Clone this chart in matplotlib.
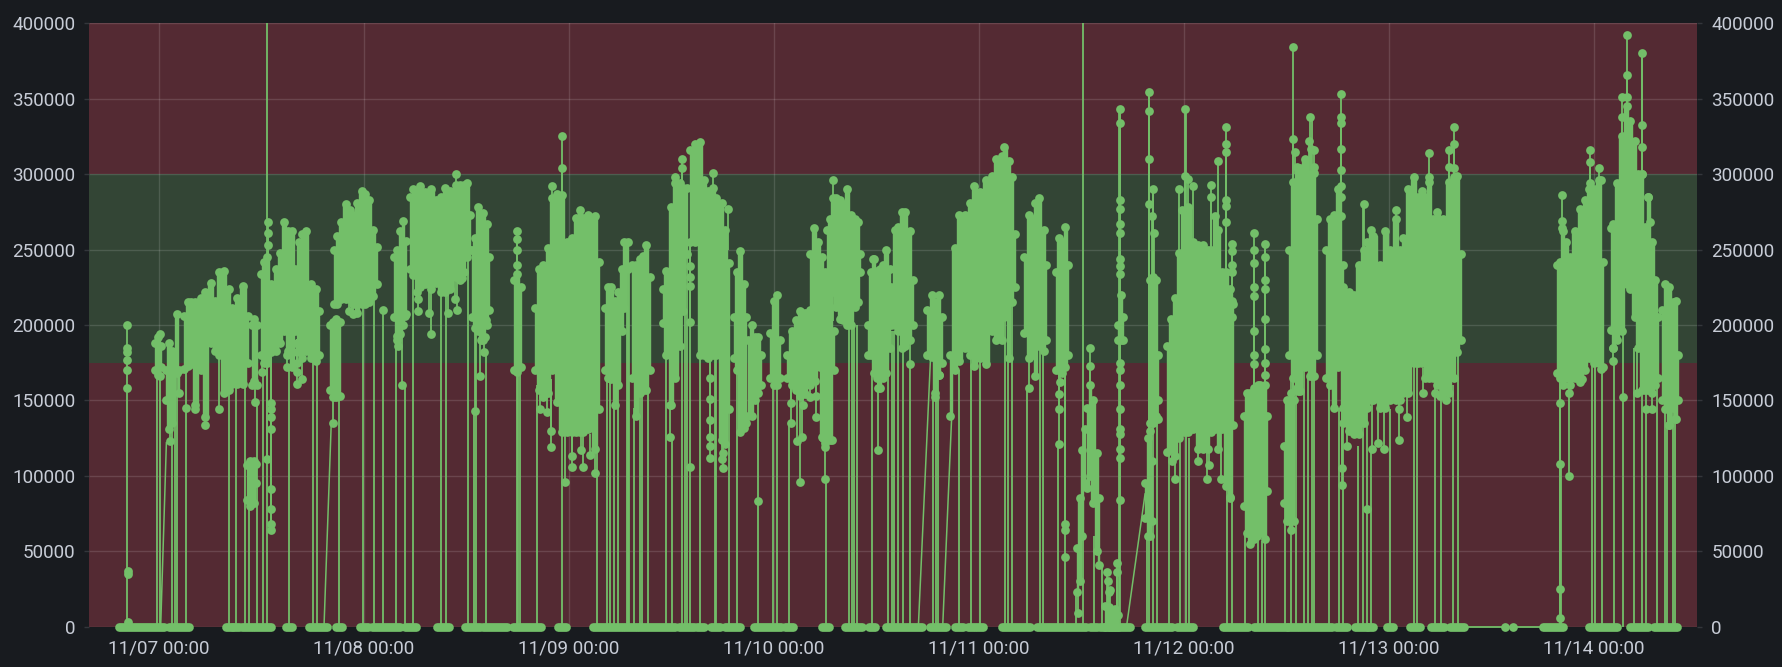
import numpy as np
import pandas as pd
import matplotlib
matplotlib.use('Agg')
import matplotlib.pyplot as plt
import matplotlib.dates as mdates

# all values in thousands, time in hours after 11/07 00:00
start_day = pd.Timestamp('2023-11-07')
y_ticks = [0, 50000, 100000, 150000, 200000, 250000, 300000, 350000, 400000]
ok_low = 175000
ok_high = 300000

# dense parts of the series: time, upper edge, lower edge
h01 = [-0.4, -0.1, 0.1, 0.3]
hi01 = [188, 192, 194, 186]
lo01 = [170, 167, 166, 172]
h02 = [0.8, 1.2, 1.6, 2.1, 2.4]
hi02 = [170, 188, 183, 207, 170]
lo02 = [150, 131, 135, 168, 155]
h03 = [3.0, 3.4, 3.8, 4.3, 4.9, 5.4, 6.1, 6.6, 7.1, 7.6, 8.2, 8.6, 9.2, 9.9, 10.5]
hi03 = [206, 215, 215, 215, 218, 222, 228, 216, 235, 236, 224, 211, 218, 226, 206]
lo03 = [171, 173, 174, 147, 170, 139, 188, 183, 180, 155, 157, 161, 161, 161, 175]
h04 = [10.9, 11.2, 11.5]
hi04 = [200, 204, 200]
lo04 = [160, 163, 160]
h05 = [10.3, 10.7, 11.1, 11.4]
hi05 = [107, 110, 110, 108]
lo05 = [84, 80, 82, 95]
h06 = [12.0, 12.3, 12.7, 13.2, 13.7, 14.2, 14.7, 15.1, 15.6, 16.0, 16.4, 16.8, 17.2, 17.8, 18.4, 18.8]
hi06 = [234, 242, 245, 227, 237, 248, 268, 262, 262, 237, 255, 260, 262, 227, 224, 209]
lo06 = [180, 175, 175, 182, 183, 188, 196, 183, 172, 196, 186, 178, 183, 178, 176, 180]
h07 = [20.0, 20.4, 20.8, 21.2]
hi07 = [200, 202, 204, 202]
lo07 = [157, 152, 152, 153]
h08 = [20.5, 20.9, 21.3, 21.9, 22.4, 22.7, 23.2, 23.8, 24.2, 24.6, 25.1, 25.5]
hi08 = [250, 259, 268, 280, 276, 273, 281, 289, 287, 283, 263, 252]
lo08 = [214, 214, 217, 217, 217, 214, 208, 214, 214, 215, 219, 227]
h09 = [27.5, 27.9, 28.3, 28.6, 28.9]
hi09 = [245, 250, 262, 269, 256]
lo09 = [205, 193, 194, 200, 207]
h10 = [29.4, 29.8, 30.2, 30.6, 31.2, 31.9, 32.5, 33.0, 33.5, 34.1, 34.8, 35.3, 35.7, 36.1, 36.5]
hi10 = [285, 290, 289, 292, 288, 290, 283, 285, 291, 289, 293, 293, 293, 294, 273]
lo10 = [237, 233, 222, 225, 227, 224, 228, 222, 222, 224, 232, 230, 235, 245, 250]
h11 = [36.7, 37.0, 37.4, 37.7, 38.0, 38.4, 38.7]
hi11 = [250, 258, 278, 270, 274, 267, 245]
lo11 = [205, 198, 196, 190, 190, 200, 210]
h12 = [41.6, 42.0, 42.4]
hi12 = [230, 234, 225]
lo12 = [170, 169, 172]
h13 = [44.1, 44.5, 45.0, 45.6, 46.1, 46.6, 47.2, 47.8, 48.4, 48.8, 49.3, 49.7, 50.3, 51.1, 51.5]
hi13 = [211, 237, 240, 251, 284, 287, 286, 255, 258, 271, 276, 271, 273, 272, 242]
lo13 = [170, 157, 152, 155, 170, 149, 129, 129, 129, 129, 129, 129, 131, 118, 144]
h14 = [52.2, 52.6, 52.9, 53.4, 53.8, 54.2, 54.5, 54.9]
hi14 = [211, 225, 225, 216, 222, 237, 255, 255]
lo14 = [170, 165, 164, 147, 160, 196, 211, 237]
h15 = [55.4, 55.9, 56.3, 56.7, 57.0, 57.5]
hi15 = [240, 240, 244, 246, 253, 232]
lo15 = [165, 140, 155, 157, 157, 170]
h16 = [59.0, 59.4, 60.0, 60.5, 61.0, 61.4, 61.9]
hi16 = [224, 236, 278, 294, 294, 291, 291]
lo16 = [201, 180, 147, 165, 186, 209, 247]
h17 = [62.2, 62.8, 63.4, 63.8, 64.3, 64.9, 65.3, 65.9, 66.3, 66.8]
hi17 = [316, 320, 321, 296, 289, 291, 284, 281, 263, 241]
lo17 = [255, 255, 180, 180, 178, 180, 180, 124, 121, 144]
h18 = [67.3, 67.7, 68.0, 68.5, 68.8]
hi18 = [205, 235, 249, 227, 205]
lo18 = [178, 170, 129, 132, 135]
h19 = [69.0, 69.4, 69.8, 70.2, 70.5]
hi19 = [190, 200, 192, 192, 180]
lo19 = [140, 140, 150, 155, 160]
h20 = [71.6, 72.0, 72.4, 72.7]
hi20 = [195, 216, 220, 190]
lo20 = [165, 160, 160, 165]
h21 = [73.5, 74.1, 74.6, 75.1, 75.7, 76.2, 76.8, 77.4]
hi21 = [180, 196, 203, 209, 208, 210, 215, 220]
lo21 = [165, 160, 157, 153, 154, 160, 163, 172]
h22 = [76.2, 76.7, 77.2, 77.6, 78.0, 78.6, 79.0]
hi22 = [247, 264, 255, 245, 235, 222, 196]
lo22 = [196, 196, 180, 126, 122, 124, 170]
h23 = [78.2, 78.6, 78.9, 79.3, 79.7, 80.1, 80.6, 81.1, 81.5, 81.9, 82.1]
hi23 = [263, 270, 284, 284, 283, 280, 290, 273, 270, 268, 247]
lo23 = [230, 222, 222, 212, 204, 203, 200, 200, 212, 215, 235]
h24 = [83.0, 83.4, 83.7, 84.1, 84.4, 84.8, 85.1, 85.6]
hi24 = [200, 235, 244, 236, 237, 240, 250, 237]
lo24 = [180, 180, 168, 165, 158, 165, 168, 185]
h25 = [85.7, 86.2, 86.6, 87.0, 87.4, 87.9, 88.3]
hi25 = [225, 263, 265, 275, 275, 262, 230]
lo25 = [200, 200, 196, 185, 186, 190, 200]
h26 = [90.0, 90.5, 90.9, 91.3, 91.7]
hi26 = [210, 220, 215, 220, 205]
lo26 = [180, 179, 152, 167, 175]
h27 = [92.6, 93.2, 93.7, 94.4, 95.0, 95.4, 96.1, 96.8, 97.5, 98.0, 98.7, 99.0, 99.5, 99.9, 100.2]
hi27 = [180, 251, 273, 273, 281, 292, 288, 296, 299, 310, 312, 318, 309, 298, 260]
lo27 = [140, 170, 176, 185, 180, 173, 178, 174, 196, 190, 190, 205, 178, 215, 225]
h28 = [101.3, 101.9, 102.3, 102.6, 103.0, 103.6, 103.9]
hi28 = [245, 273, 270, 281, 284, 263, 240]
lo28 = [195, 178, 180, 166, 186, 183, 190]
h29 = [105.0, 105.4, 105.8, 106.1, 106.5]
hi29 = [235, 258, 255, 265, 240]
lo29 = [170, 170, 168, 172, 180]
h30 = [107.5, 107.8, 108.1, 108.4]
hi30 = [52, 85, 117, 131]
lo30 = [23, 30, 60, 95]
h31 = [108.7, 109.0, 109.4, 109.8, 110.1]
hi31 = [145, 160, 150, 115, 85]
lo31 = [92, 100, 82, 50, 41]
h32 = [110.8, 111.2, 111.6, 112.0, 112.3]
hi32 = [14, 13, 10, 12, 8]
lo32 = [0, 0, 0, 0, 0]
h33 = [112.3, 112.6, 112.9]
hi33 = [200, 220, 205]
lo33 = [190, 190, 190]
h34 = [116.0, 116.4, 116.8, 117.0]
hi34 = [230, 232, 230, 180]
lo34 = [135, 135, 140, 150]
h35 = [115.5, 115.8, 116.1, 116.3]
hi35 = [95, 125, 130, 110]
lo35 = [72, 60, 60, 70]
h36 = [118.0, 118.5, 119.0, 119.5, 119.8, 120.2, 120.5, 121.1, 121.7, 122.3, 122.8, 123.2, 123.7, 124.0, 124.5, 125.0, 125.4, 125.8]
hi36 = [186, 204, 218, 248, 276, 273, 278, 255, 253, 253, 250, 250, 272, 263, 235, 235, 224, 214]
lo36 = [116, 118, 113, 125, 129, 129, 129, 131, 118, 118, 118, 129, 131, 118, 131, 93, 85, 134]
h37 = [127.0, 127.35, 127.8, 128.2, 128.6, 128.9, 129.5, 129.8]
hi37 = [140, 155, 155, 158, 158, 160, 160, 140]
lo37 = [80, 62, 55, 58, 60, 62, 58, 90]
h38 = [131.7, 132.1, 132.5, 132.9]
hi38 = [120, 150, 155, 150]
lo38 = [82, 70, 64, 70]
h39 = [132.3, 132.8, 133.2, 133.6, 134.2, 134.8, 135.2, 135.6]
hi39 = [250, 295, 305, 304, 310, 300, 305, 270]
lo39 = [180, 165, 158, 156, 172, 166, 166, 180]
h40 = [136.7, 137.1, 137.6, 138.1, 138.7]
hi40 = [250, 270, 273, 290, 240]
lo40 = [165, 160, 145, 172, 145]
h41 = [138.7, 139.3, 139.9, 140.5, 141.1, 141.5, 141.9, 142.2, 143.0, 143.6, 144.2, 144.8, 145.3, 145.7,
       146.3, 146.9, 147.4, 147.9, 148.3, 148.7, 149.2, 149.6, 150.4, 151.0, 151.6, 152.0, 152.4]
hi41 = [225, 222, 220, 240, 250, 255, 263, 259, 240, 262, 250, 270, 250, 258,
        290, 298, 285, 289, 285, 295, 270, 275, 270, 295, 298, 299, 247]
lo41 = [135, 130, 128, 128, 135, 145, 150, 150, 145, 145, 150, 150, 150, 155,
        155, 175, 175, 175, 165, 165, 165, 160, 155, 155, 165, 182, 190]
h42 = [163.7, 164.0, 164.4, 164.7, 165.2, 165.8, 166.4, 167.0, 167.5, 168.0, 168.6, 169.1]
hi42 = [240, 242, 262, 255, 245, 262, 277, 283, 290, 290, 296, 242]
lo42 = [168, 165, 160, 165, 160, 165, 162, 170, 178, 175, 175, 172]
h43 = [170.0, 170.3, 170.7, 171.3, 171.85, 172.2, 172.8, 173.2, 173.6, 174.0, 174.4, 174.8, 175.2, 175.5]
hi43 = [264, 267, 294, 325, 345, 335, 322, 300, 300, 265, 285, 255, 230, 205]
lo43 = [197, 185, 190, 196, 227, 224, 205, 185, 157, 157, 157, 155, 160, 165]
h44 = [176.0, 176.35, 176.75, 177.3, 177.6, 177.9]
hi44 = [210, 227, 225, 215, 216, 180]
lo44 = [150, 144, 134, 145, 138, 150]

dense_parts = [
    (h01, hi01, lo01), (h02, hi02, lo02), (h03, hi03, lo03), (h04, hi04, lo04), (h05, hi05, lo05),
    (h06, hi06, lo06), (h07, hi07, lo07), (h08, hi08, lo08), (h09, hi09, lo09), (h10, hi10, lo10),
    (h11, hi11, lo11), (h12, hi12, lo12), (h13, hi13, lo13), (h14, hi14, lo14), (h15, hi15, lo15),
    (h16, hi16, lo16), (h17, hi17, lo17), (h18, hi18, lo18), (h19, hi19, lo19), (h20, hi20, lo20),
    (h21, hi21, lo21), (h22, hi22, lo22), (h23, hi23, lo23), (h24, hi24, lo24), (h25, hi25, lo25),
    (h26, hi26, lo26), (h27, hi27, lo27), (h28, hi28, lo28), (h29, hi29, lo29), (h30, hi30, lo30),
    (h31, hi31, lo31), (h32, hi32, lo32), (h33, hi33, lo33), (h34, hi34, lo34), (h35, hi35, lo35),
    (h36, hi36, lo36), (h37, hi37, lo37), (h38, hi38, lo38), (h39, hi39, lo39), (h40, hi40, lo40),
    (h41, hi41, lo41), (h42, hi42, lo42), (h43, hi43, lo43), (h44, hi44, lo44),
]

# single points outside the dense parts
spots_a = [(-3.75, 200), (-3.75, 185), (-3.75, 182), (-3.75, 176.6), (-3.75, 170), (-3.75, 158), (-3.65, 37),
           (-3.65, 35), (-3.6, 3), (1.3, 123), (4.25, 144), (5.4, 134), (3.15, 145), (7.05, 144), (11.3, 149),
           (12.75, 268), (12.75, 261), (12.75, 253), (13.2, 148), (13.2, 144), (13.2, 139), (13.2, 131),
           (13.2, 91), (13.2, 78), (13.2, 68), (13.2, 64), (12.7, 111), (15.05, 180), (15.05, 172), (16.2, 188),
           (16.2, 182), (16.2, 175), (16.2, 169), (16.2, 161), (16.8, 164), (12.1, 169), (20.4, 135), (21.0, 153),
           (22.3, 209), (22.8, 207), (26.2, 210), (27.9, 190), (28.0, 186), (28.45, 160), (28.85, 206),
           (30.4, 217), (30.4, 209), (31.65, 208), (31.85, 194), (33.85, 208), (34.7, 217), (34.9, 210),
           (35.5, 231), (34.8, 300), (37.03, 143), (37.6, 166), (38.05, 182), (38.2, 192), (38.3, 203),
           (42.0, 262), (42.0, 257), (42.0, 250), (42.0, 240), (46.1, 292), (47.2, 325), (47.2, 304),
           (45.4, 142), (45.9, 130), (45.9, 119), (47.6, 96), (48.35, 113), (48.35, 106), (49.7, 106),
           (49.4, 117), (50.5, 114), (51.1, 102), (44.6, 144)]
spots_b = [(59.9, 126), (59.9, 147), (60.5, 298), (61.3, 310), (61.3, 304), (62.2, 239), (62.2, 232), (62.2, 226),
           (62.2, 202), (62.2, 106), (64.9, 301), (66.6, 277), (64.5, 165), (64.5, 151), (64.5, 137), (64.5, 126),
           (64.5, 120), (64.5, 112), (65.9, 111), (66.1, 105), (66.1, 115), (70.1, 83), (74.0, 148), (74.0, 135),
           (74.7, 123), (75.3, 126), (75.05, 96), (75.4, 147), (76.25, 152), (76.95, 153), (76.9, 139),
           (78.0, 119), (78.05, 98), (78.8, 124), (77.8, 125), (78.9, 296), (84.2, 117), (84.2, 158), (83.65, 244),
           (88.0, 174), (90.9, 155), (91.3, 167), (101.9, 158), (105.35, 154), (105.35, 144), (105.35, 121),
           (105.5, 162), (106.1, 68), (106.1, 64), (106.1, 46), (107.6, 9), (109.0, 185), (109.0, 173),
           (111.0, 36), (111.1, 30), (111.2, 23), (111.4, 24)]
spots_c = [(112.53, 343), (112.53, 333.6), (112.53, 283), (112.53, 277), (112.53, 267), (112.53, 261), (112.53, 244),
           (112.53, 239), (112.53, 234), (112.53, 175), (112.53, 170), (112.53, 160), (112.53, 144), (112.53, 131),
           (112.53, 128), (112.53, 118), (112.53, 112), (112.53, 84), (112.2, 42), (112.2, 36),
           (115.9, 354.5), (115.9, 341.6), (115.9, 310), (115.9, 280), (116.35, 290), (116.3, 272), (116.5, 261),
           (117.0, 138), (119.0, 98), (118.6, 110), (119.45, 290), (120.2, 343), (120.2, 299), (120.5, 297),
           (121.1, 292), (123.2, 293), (123.2, 285), (124.0, 309), (124.95, 331), (124.95, 320), (124.95, 315),
           (124.95, 283), (124.95, 279), (124.95, 268), (125.6, 254), (125.6, 249), (125.6, 240), (125.6, 235),
           (125.6, 216), (125.6, 205), (122.7, 98), (122.9, 107), (124.4, 98), (121.7, 110), (125.4, 86),
           (128.2, 261), (128.2, 250), (128.2, 241), (128.2, 225), (128.2, 219), (128.2, 196), (128.2, 180),
           (128.2, 174), (129.5, 254), (129.5, 245), (129.5, 230), (129.5, 224), (129.5, 204), (129.5, 184),
           (129.5, 175), (129.5, 167), (128.7, 160), (132.8, 384.6), (132.8, 323.5), (133.0, 315), (134.8, 338),
           (134.7, 322), (134.9, 317), (135.2, 316), (135.3, 301), (133.4, 156)]
spots_d = [(138.37, 353), (138.37, 338), (138.37, 334), (138.37, 317), (138.37, 303), (138.37, 292), (138.37, 285),
           (138.37, 272), (141.1, 280), (139.07, 120), (141.4, 78), (138.5, 105), (138.5, 94), (143.5, 118),
           (142.0, 118), (142.7, 122), (145.15, 124), (145.2, 144), (146.1, 139), (144.8, 276), (148.7, 313.7),
           (148.7, 298), (148.05, 155), (151.0, 316), (151.0, 305), (151.65, 331), (151.65, 320), (151.65, 304),
           (149.4, 155), (150.0, 153), (150.65, 150), (157.6, 0), (158.6, 0),
           (164.3, 286), (164.3, 269), (164.3, 264), (164.1, 148), (164.1, 107.6), (164.1, 24.7), (164.1, 6),
           (165.1, 100), (165.1, 155), (166.6, 164), (167.55, 316), (167.55, 308), (167.55, 294), (168.6, 304),
           (168.9, 296), (168.8, 171), (171.85, 392), (171.85, 366), (171.3, 351), (171.3, 338), (171.9, 351),
           (173.6, 380), (173.6, 332.5), (173.6, 318), (173.6, 300), (171.4, 152.6), (170.3, 185), (170.3, 176),
           (174.4, 285), (174.6, 268), (174.1, 144), (174.8, 144), (173.1, 155), (176.75, 134), (177.5, 138)]

# falls to zero: time and the value the line came from
drops_a = [(-3.75, 200), (-0.16, 166), (0.11, 166), (1.52, 135), (1.9, 170), (2.18, 170), (3.15, 145), (8.23, 160),
           (9.0, 161), (10.1, 161), (10.57, 80), (11.47, 150), (12.2, 169), (12.67, 500), (15.25, 172), (18.06, 178),
           (18.53, 178), (21.1, 153), (23.96, 214), (25.2, 219), (26.2, 210), (27.8, 190), (28.84, 160),
           (29.74, 233), (33.0, 222), (33.64, 222), (36.17, 245), (36.9, 143), (37.2, 196), (38.28, 182),
           (41.9, 170), (42.03, 170), (42.3, 172), (44.33, 160), (47.26, 129), (51.3, 118)]
drops_b = [(52.45, 170), (52.84, 165), (53.3, 147), (53.8, 160), (54.8, 240), (54.98, 240), (55.1, 240), (55.64, 145),
           (56.34, 155), (56.6, 155), (57.24, 157), (59.35, 180), (60.05, 126), (61.3, 209), (61.6, 209), (61.9, 247),
           (62.23, 106), (63.36, 180), (65.1, 180), (65.3, 180), (66.76, 144), (67.66, 170), (70.1, 83), (71.95, 160),
           (72.34, 160), (73.75, 135), (78.08, 98), (80.85, 200), (81.16, 200), (81.43, 200), (81.7, 200), (83.46, 168),
           (85.4, 170), (85.8, 196), (86.1, 196), (86.6, 196), (87.1, 185), (87.95, 174), (90.68, 150), (90.96, 150),
           (91.27, 167), (93.65, 170), (95.05, 178), (96.15, 178), (99.07, 210), (99.46, 178), (99.85, 215),
           (101.65, 158), (103.17, 186), (103.48, 183), (105.3, 121), (106.1, 46), (108.25, 500), (107.4, 25),
           (109.49, 60), (110.39, 40), (112.45, 343), (112.53, 343)]
drops_c = [(115.74, 60), (115.97, 354), (116.36, 290), (116.9, 138), (118.3, 116), (119.56, 125), (120.27, 343),
           (120.66, 125), (125.03, 100), (125.6, 254), (127.17, 62), (128.73, 60), (129.2, 57), (129.47, 254),
           (131.85, 85), (132.6, 165), (133.1, 160), (134.08, 170), (134.5, 166), (134.98, 338), (135.3, 166),
           (137.0, 165), (138.17, 145), (138.7, 135), (140.44, 120), (141.0, 280), (141.5, 78), (141.88, 118),
           (144.15, 144), (147.0, 175), (147.27, 175), (149.4, 155), (150.12, 153), (151.56, 160), (152.15, 182),
           (164.05, 148), (164.15, 107), (167.76, 178), (168.2, 175), (168.93, 171), (170.37, 176), (171.46, 152),
           (172.75, 185), (173.6, 380), (174.08, 144), (175.37, 160), (176.3, 144), (176.6, 134), (177.24, 144),
           (177.5, 138)]

# stretches that stay at zero
zero_a = [(-4.65, 0.62), (1.2, 3.55), (7.84, 8.54), (8.7, 9.4), (9.8, 10.9), (11.15, 13.1), (14.9, 15.64),
          (17.6, 19.74), (20.7, 21.5), (23.6, 24.55), (24.94, 28.2), (28.84, 30.1), (32.6, 34.0), (35.86, 37.6),
          (37.93, 40.74), (41.5, 44.76), (46.8, 47.7), (50.9, 54.2), (54.5, 55.9), (56.15, 60.4), (60.95, 62.66),
          (63.0, 63.8), (64.65, 65.7), (66.3, 68.05), (69.7, 72.85), (73.3, 74.2), (77.65, 78.5), (80.34, 82.3)]
zero_b = [(83.2, 83.85), (85.2, 89.3), (90.3, 92.2), (93.2, 94.1), (94.7, 95.45), (95.7, 96.54), (98.7, 102.0),
          (102.8, 108.6), (109.0, 109.8), (110.2, 113.7), (115.45, 118.6), (119.2, 121.1), (124.6, 127.55),
          (128.2, 132.05), (132.25, 133.4), (133.6, 137.3), (137.8, 139.15), (140.05, 141.4), (141.6, 142.2),
          (143.75, 144.5), (146.5, 147.6), (149.0, 150.5), (151.2, 152.8), (162.1, 164.45), (167.5, 170.7),
          (172.3, 174.4), (175.0, 177.8)]

# slow climbs: start time, end time, value reached
climbs = [(0.23, 0.9, 122), (19.35, 20.2, 135), (88.93, 90.37, 180), (91.78, 92.83, 139), (113.3, 115.47, 88)]
flat_start = 152.8
flat_end = 162.1


def to_date(hours):
    base = mdates.date2num(start_day)
    return base + np.asarray(hours, dtype=float) / 24


def draw_chart():
    bg = '#181b1f'
    green = '#73bf69'
    text = '#c7ccd6'
    marker_pt = 6.3

    fig = plt.figure(figsize=(17.82, 6.67), dpi=100, facecolor=bg)
    ax = fig.add_axes([89 / 1782, 1 - 626.7 / 667, (1696.7 - 89) / 1782, 603.4 / 667])
    ax.set_facecolor(bg)

    ax.set_xlim(to_date(-8.16), to_date(180.05))
    ax.set_ylim(0, 400000)

    # threshold bands
    ax.axhspan(0, ok_low, color='#542a33', lw=0, zorder=1)
    ax.axhspan(ok_low, ok_high, color='#334535', lw=0, zorder=1)
    ax.axhspan(ok_high, 400000, color='#542a33', lw=0, zorder=1)

    ax.xaxis.set_major_locator(mdates.DayLocator())
    ax.xaxis.set_major_formatter(mdates.DateFormatter('%m/%d %H:%M'))
    ax.set_yticks(y_ticks)
    ax.grid(True, color='white', alpha=0.13, lw=1.0, zorder=2)

    mark = dict(color=green, ms=marker_pt, ls='none', marker='o', mew=0, zorder=4, clip_on=False)

    for hours, high, low in dense_parts:
        t = to_date(hours)
        high = np.array(high) * 1000
        low = np.array(low) * 1000
        # steps keep the upright, column look of the overlapping points
        ax.fill_between(t, low, high, step='mid', color=green, lw=1, zorder=4)
        ax.plot(t, high, **mark)
        ax.plot(t, low, **mark)

    spots = spots_a + spots_b + spots_c + spots_d
    spot_h = np.array([s[0] for s in spots])
    spot_v = np.array([s[1] for s in spots])
    ax.plot(to_date(spot_h), spot_v * 1000, **mark)

    # stems joining loose points to the dense part they belong to
    for h, v in spots:
        for hours, high, low in dense_parts:
            if hours[0] <= h <= hours[-1]:
                top = np.interp(h, hours, high)
                bottom = np.interp(h, hours, low)
                if v > top:
                    ax.vlines(to_date(h), top * 1000, v * 1000, color=green, lw=1.3, zorder=3)
                elif v < bottom:
                    ax.vlines(to_date(h), v * 1000, bottom * 1000, color=green, lw=1.3, zorder=3)
                break

    drops = drops_a + drops_b + drops_c
    ax.vlines(to_date([d[0] for d in drops]), 0, [d[1] * 1000 for d in drops], color=green, lw=1.3, zorder=3)

    for h0, h1, top in climbs:
        ax.plot(to_date([h0, h1]), [0, top * 1000], color=green, lw=1.1, zorder=3)

    ax.plot(to_date([flat_start, flat_end]), [0, 0], color=green, lw=1.3, zorder=4, clip_on=False)
    for h0, h1 in zero_a + zero_b:
        ax.plot(to_date([h0, h1]), [0, 0], color=green, lw=marker_pt, solid_capstyle='round', zorder=4, clip_on=False)

    # axes, same scale left and right
    for spine in ax.spines.values():
        spine.set_visible(False)
    ax.tick_params(axis='x', length=0, pad=9.5, labelsize=13.6, labelcolor=text)
    ax.tick_params(axis='y', length=3.6, width=1, color='#33363b', pad=6, labelsize=13.6, labelcolor=text)
    for label in ax.get_xticklabels() + ax.get_yticklabels():
        label.set_fontfamily('Roboto')

    right = ax.twinx()
    right.set_ylim(ax.get_ylim())
    right.set_yticks(y_ticks)
    for spine in right.spines.values():
        spine.set_visible(False)
    right.tick_params(axis='y', length=3.6, width=1, color='#33363b', pad=7, labelsize=13.6, labelcolor=text)
    for label in right.get_yticklabels():
        label.set_fontfamily('Roboto')

    fig.savefig('out.png', dpi=100, facecolor=bg)
    return fig


def main():
    draw_chart()


if __name__ == '__main__':
    main()
